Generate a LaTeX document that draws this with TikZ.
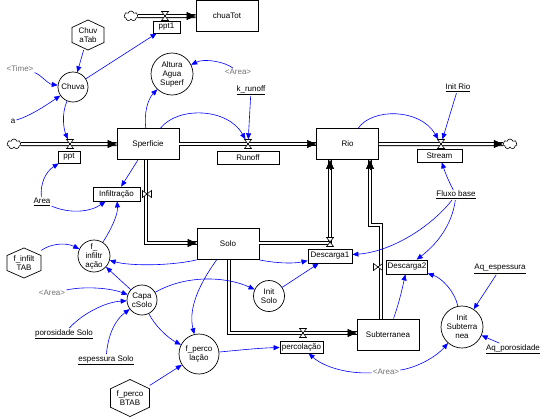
\documentclass[tikz,border=0pt]{standalone}
\usepackage{fontspec}
\setmainfont{Liberation Sans}
\usetikzlibrary{arrows.meta,shapes.symbols}
\newcommand\myhex[4]{%
  \draw[fill=white,line width=0.7pt] (#1,#2-#4) -- (#1+#3,#2-#4/2) -- (#1+#3,#2+#4/2) -- (#1,#2+#4) -- (#1-#3,#2+#4/2) -- (#1-#3,#2-#4/2) -- cycle;}
\begin{document}
\begin{tikzpicture}[x=1pt,y=-1pt,
  every node/.style={font=\fontsize{8}{9}\selectfont},
  stock/.style={draw, line width=0.8pt, fill=white, minimum width=62pt, minimum height=31pt, inner sep=0pt},
  flbl/.style={draw, line width=0.8pt, fill=white, minimum height=13pt, inner sep=1pt},
  aux/.style={draw, circle, line width=0.7pt, fill=white, align=center, inner sep=0pt},
  hexnode/.style={align=center, inner sep=0pt},
  cst/.style={inner sep=1pt},
  shadow/.style={text=black!55, inner sep=1pt},
  valvenode/.style={minimum width=7pt, minimum height=9pt, inner sep=0pt},
  conn/.style={blue, line width=0.6pt, -{Triangle[length=6pt,width=5pt]}},
  pipe/.style={draw=black, double=white, double distance=2pt, line width=1pt, line join=miter},
  pipehead/.style={-{Triangle[length=9pt,width=8pt]}, line width=0.6pt, black},
  cloudy/.style={cloud, cloud puffs=7, draw, fill=white, minimum width=14pt, minimum height=10pt, inner sep=0pt, line width=0.6pt},
  vvalve/.pic={\draw[fill=white,line width=0.6pt] (-3.5,-4.5) -- (3.5,-4.5) -- (-3.5,4.5) -- (3.5,4.5) -- cycle;},
  hvalve/.pic={\draw[fill=white,line width=0.6pt] (-4.5,-3.5) -- (-4.5,3.5) -- (4.5,-3.5) -- (4.5,3.5) -- cycle;}
]
\useasboundingbox[fill=white] (0,0) rectangle (548,418);

% stocks
\node[stock] (chuaTot) at (227,16) {chuaTot};
\node[stock] (Sperficie) at (148,144) {Sperficie};
\node[stock] (Rio) at (347.5,144) {Rio};
\node[stock] (Solo) at (228,244) {Solo};
\node[stock] (Subt) at (388,334.5) {Subterranea};

% clouds
\node[cloudy] (cloud1) at (131,16) {};
\node[cloudy] (cloud2) at (14,144) {};
\node[cloudy] (cloud3) at (510,144) {};

% valves (anchors)
\node[valvenode] (ppt1v) at (165,16) {};
\node[valvenode] (pptv) at (70,144) {};
\node[valvenode] (runoffv) at (248,144) {};
\node[valvenode] (streamv) at (441,144) {};
\node[valvenode] (percv) at (303,333) {};
\node[valvenode] (infv) at (147,194) {};
\node[valvenode] (d1v) at (330,242) {};
\node[valvenode] (d2v) at (378,267) {};

% flow labels
\node[flbl, minimum width=27pt, minimum height=12pt] (ppt1lbl) at (166.5,27) {ppt1};
\node[flbl, minimum width=22pt, minimum height=12pt] (pptlbl) at (69,157) {ppt};
\node[flbl, minimum width=62pt] (runofflbl) at (248,157.5) {Runoff};
\node[flbl, minimum width=45pt] (streamlbl) at (439.5,155.5) {Stream};
\node[flbl, minimum width=47pt, minimum height=14pt] (inflbl) at (116.5,194) {Infiltração};
\node[flbl, minimum width=44pt, minimum height=14pt] (d1lbl) at (330,256) {Descarga1};
\node[flbl, minimum width=40pt, minimum height=14pt] (d2lbl) at (407,267) {Descarga2};
\node[flbl, minimum width=43pt, minimum height=12pt] (perclbl) at (301.5,347) {percolação};

% auxiliaries
\node[aux, minimum size=30pt] (Chuva) at (73,87) {Chuva};
\node[aux, minimum size=42pt] (Altura) at (172,74) {Altura\\Agua\\Superf};
\node[aux, minimum size=32pt] (finf) at (94,256) {f\_\\infiltr\\ação};
\node[aux, minimum size=30pt] (Capac) at (142,300) {Capa\\cSolo};
\node[aux, minimum size=40pt] (fperc) at (199,354) {f\_perco\\lação};
\node[aux, minimum size=31pt] (InitSolo) at (269,296) {Init\\Solo};
\node[aux, minimum size=42pt] (InitSubt) at (462,327) {Init\\Subterra\\nea};

% lookups
\myhex{88}{35}{16}{15}
\node[hexnode, minimum width=32pt, minimum height=30pt] (ChuvaTab) at (88,35) {Chuv\\aTab};
\myhex{24}{263}{17}{15}
\node[hexnode, minimum width=34pt, minimum height=30pt] (finfTAB) at (24,263) {f\_infilt\\TAB};
\myhex{130}{398}{19.5}{18.5}
\node[hexnode, minimum width=39pt, minimum height=37pt] (fpercTAB) at (130,398) {f\_perco\\BTAB};

% constants and shadows
\node[cst] (a) at (13,121) {a};
\node[shadow] (Time) at (20,69) {<Time>};
\node[shadow] (AreaA) at (238,72) {<Area>};
\node[cst] (krunoff) at (251,90) {\underline{k\_runoff}};
\node[cst] (InitRio) at (458,88) {\underline{Init Rio}};
\node[cst] (Area) at (42,202) {\underline{Area}};
\node[cst] (Fluxo) at (456,195) {\underline{Fluxo base}};
\node[shadow] (AreaC) at (52,293) {<Area>};
\node[cst] (poros) at (64,334) {\underline{porosidade Solo}};
\node[cst] (espess) at (106,360) {\underline{espessura Solo}};
\node[cst] (Aqesp) at (500,269) {\underline{Aq\_espessura}};
\node[cst] (Aqpor) at (513,349) {\underline{Aq\_porosidade}};
\node[shadow] (AreaB) at (386,372) {<Area>};

% pipes
\draw[pipe] (cloud1) -- (chuaTot);
\draw[pipehead] ([xshift=-9pt]chuaTot.west) -- (chuaTot.west);
\draw[pipe] (cloud2) -- (Sperficie);
\draw[pipehead] ([xshift=-9pt]Sperficie.west) -- (Sperficie.west);
\draw[pipe] (Sperficie) -- (Rio);
\draw[pipehead] ([xshift=-9pt]Rio.west) -- (Rio.west);
\draw[pipe] (Rio) -- (cloud3);
\draw[pipehead] ([xshift=-9pt]cloud3.west) -- (cloud3.west);

\coordinate (infc) at (146,243);
\path (Solo.west |- infc) coordinate (soloin);
\draw[pipe] (Sperficie.south -| infc) -- (infc) -- (soloin);
\draw[pipehead] ([xshift=-9pt]soloin) -- (soloin);

\coordinate (d1c) at (330,243);
\path (Rio.south -| d1c) coordinate (rioin1);
\draw[pipe] (Solo.east |- d1c) -- (d1c) -- (rioin1);
\draw[pipehead] ([yshift=-9pt]rioin1) -- (rioin1);

\coordinate (d2a) at (381,225);
\coordinate (d2b) at (370,225);
\path (Rio.south -| d2b) coordinate (rioin2);
\path (Subt.north -| d2a) coordinate (subtout);
\draw[pipe] (subtout) -- (d2a) -- (d2b) -- (rioin2);
\draw[pipehead] ([yshift=-9pt]rioin2) -- (rioin2);

\coordinate (pc) at (229,333);
\path (Subt.west |- pc) coordinate (subtin);
\draw[pipe] (Solo.south -| pc) -- (pc) -- (subtin);
\draw[pipehead] ([xshift=-9pt]subtin) -- (subtin);

% valves
\pic at (ppt1v) {vvalve};
\pic at (pptv) {vvalve};
\pic at (runoffv) {vvalve};
\pic at (streamv) {vvalve};
\pic at (percv) {vvalve};
\pic at (d1v) {vvalve};
\pic at (infv) {hvalve};
\pic at (d2v) {hvalve};

% connectors
\draw[conn] (Time) .. controls (40,74) and (48,84) .. (Chuva);
\draw[conn] (a) .. controls (30,116) and (45,106) .. (Chuva);
\draw[conn] (ChuvaTab) -- (Chuva);
\draw[conn] (Chuva) -- (ppt1lbl);
\draw[conn] (Chuva) .. controls (61,115) and (64,130) .. (pptv);
\draw[conn] (Area) .. controls (40,185) and (45,172) .. (pptlbl);
\draw[conn] (Area) .. controls (70,214) and (90,212) .. (inflbl);
\draw[conn] (Sperficie) -- (inflbl);
\draw[conn] (finf) .. controls (112,228) and (118,214) .. (inflbl);
\draw[conn] (finfTAB) .. controls (50,244) and (65,242) .. (finf);
\draw[conn] (Solo.south west) .. controls (170,266) and (130,266) .. (finf);
\draw[conn] (Solo.south east) .. controls (275,263) and (292,264) .. (d1lbl);
\draw[conn] (Solo) .. controls (195,290) and (189,312) .. (fperc);
\draw[conn] (Capac) .. controls (185,275) and (225,276) .. (InitSolo);
\draw[conn] (InitSolo) -- (d1lbl);
\draw[conn] (Fluxo) .. controls (430,228) and (390,252) .. (d1lbl);
\draw[conn] (Fluxo) .. controls (452,225) and (437,244) .. (d2lbl);
\draw[conn] (Fluxo) .. controls (448,180) and (445,172) .. (streamlbl);
\draw[conn] (InitRio) -- (streamv);
\draw[conn] (Rio) .. controls (372,108) and (420,108) .. (streamv);
\draw[conn] (Sperficie) .. controls (178,106) and (228,108) .. (runoffv);
\draw[conn] (krunoff) -- (runoffv);
\draw[conn] (Sperficie) .. controls (144,115) and (147,100) .. (Altura);
\draw[conn] (AreaA) .. controls (225,62) and (205,58) .. (Altura);
\draw[conn] (Capac) -- (finf);
\draw[conn] (AreaC) .. controls (85,286) and (110,288) .. (Capac);
\draw[conn] (poros) .. controls (82,314) and (105,302) .. (Capac);
\draw[conn] (espess) .. controls (108,335) and (115,320) .. (Capac);
\draw[conn] (Capac) .. controls (155,326) and (168,338) .. (fperc);
\draw[conn] (fpercTAB) -- (fperc);
\draw[conn] (fperc) .. controls (240,350) and (260,348) .. (perclbl);
\draw[conn] (AreaB) .. controls (350,374) and (325,368) .. (perclbl);
\draw[conn] (AreaB) .. controls (415,368) and (435,358) .. (InitSubt);
\draw[conn] (InitSubt) .. controls (455,292) and (442,278) .. (d2lbl);
\draw[conn] (Subt) .. controls (400,300) and (403,285) .. (d2lbl);
\draw[conn] (Aqesp) -- (InitSubt);
\draw[conn] (Aqpor) -- (InitSubt);
\end{tikzpicture}
\end{document}
